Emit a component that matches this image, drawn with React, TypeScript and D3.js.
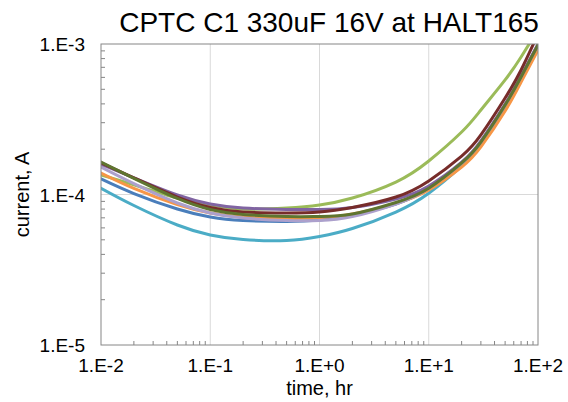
import React from "react";
import * as d3 from "d3";

const title = "CPTC C1 330uF 16V at HALT165";
const xLabel = "time, hr";
const yLabel = "current, A";
const xTickLabels = ["1.E-2", "1.E-1", "1.E+0", "1.E+1", "1.E+2"];
const yTickLabels = ["1.E-3", "1.E-4", "1.E-5"];
const xTicks = [0.01, 0.1, 1, 10, 100];
const yTicks = [1e-3, 1e-4, 1e-5];

const times = [0.01, 0.02, 0.05, 0.1, 0.2, 0.5, 1, 2, 5, 10, 20, 30, 50, 70, 100];

const lightGreen = [1.35e-4, 1.16e-4, 9.48e-5, 8.52e-5, 8.01e-5, 8.13e-5, 8.52e-5, 9.48e-5, 1.21e-4, 1.67e-4, 2.6e-4, 3.64e-4, 5.77e-4, 8.2e-4, 1.24e-3];
const cyan = [1.1e-4, 8.45e-5, 6.27e-5, 5.38e-5, 5.02e-5, 4.95e-5, 5.26e-5, 5.94e-5, 7.65e-5, 1.02e-4, 1.55e-4, 2.17e-4, 3.81e-4, 5.95e-4, 9.85e-4];
const blue = [1.27e-4, 1.015e-4, 8.01e-5, 7.09e-5, 6.72e-5, 6.62e-5, 6.77e-5, 7.31e-5, 8.65e-5, 1.1e-4, 1.62e-4, 2.23e-4, 3.93e-4, 6.04e-4, 9.85e-4];
const orange = [1.39e-4, 1.1e-4, 8.58e-5, 7.54e-5, 7.09e-5, 6.93e-5, 7.03e-5, 7.42e-5, 8.72e-5, 1.07e-4, 1.52e-4, 2.07e-4, 3.59e-4, 5.59e-4, 9.12e-4];
const lavender = [1.52e-4, 1.18e-4, 8.78e-5, 7.54e-5, 6.98e-5, 6.72e-5, 6.72e-5, 7.14e-5, 8.65e-5, 1.1e-4, 1.62e-4, 2.23e-4, 3.93e-4, 6.04e-4, 9.85e-4];
const purple = [1.59e-4, 1.29e-4, 9.92e-5, 8.65e-5, 8.13e-5, 7.95e-5, 7.95e-5, 8.2e-5, 9.34e-5, 1.14e-4, 1.64e-4, 2.27e-4, 3.99e-4, 6.13e-4, 1.0e-3];
const maroon = [1.62e-4, 1.29e-4, 9.62e-5, 8.2e-5, 7.65e-5, 7.54e-5, 7.65e-5, 8.2e-5, 9.62e-5, 1.23e-4, 1.8e-4, 2.49e-4, 4.38e-4, 6.72e-4, 1.165e-3];
const darkGreen = [1.64e-4, 1.28e-4, 9.41e-5, 7.95e-5, 7.37e-5, 7.14e-5, 7.14e-5, 7.42e-5, 8.85e-5, 1.1e-4, 1.62e-4, 2.23e-4, 3.93e-4, 6.04e-4, 9.85e-4];

const seriesValues = [lightGreen, cyan, blue, orange, lavender, purple, maroon, darkGreen];
const seriesColors = ["#9BBB59", "#4BACC6", "#4A7EBB", "#F79646", "#ACA0CC", "#8064A2", "#772C2A", "#5F7530"];

const W = 568;
const H = 402;
const left = 101;
const right = 538;
const top = 44;
const bottom = 345;
const FONT = "'Liberation Sans', Arial, sans-serif";

export default function App() {
  const x = d3.scaleLog().domain([0.01, 100]).range([left, right]);
  const y = d3.scaleLog().domain([1e-5, 1e-3]).range([bottom, top]);
  const line = d3
    .line<[number, number]>()
    .x((d) => x(d[0]))
    .y((d) => y(d[1]))
    .curve(d3.curveNatural);

  const minorX: number[] = [];
  for (let e = -2; e < 2; e++) for (let k = 2; k <= 9; k++) minorX.push(k * Math.pow(10, e));
  const minorY: number[] = [];
  for (let e = -5; e < -3; e++) for (let k = 2; k <= 9; k++) minorY.push(k * Math.pow(10, e));

  return (
    <svg width={W} height={H} style={{ position: "absolute", left: 0, top: 0, background: "#fff" }} fontFamily={FONT}>
      <defs>
        <clipPath id="plotClip">
          <rect x={left} y={top} width={right - left} height={bottom - top} />
        </clipPath>
      </defs>
      <rect x={0} y={0} width={W} height={H} fill="#fff" />
      {xTicks.slice(1, -1).map((t) => (
        <line key={"gx" + t} x1={x(t)} x2={x(t)} y1={top} y2={bottom} stroke="#d9d9d9" strokeWidth={1} />
      ))}
      {yTicks.slice(1, -1).map((t) => (
        <line key={"gy" + t} x1={left} x2={right} y1={y(t)} y2={y(t)} stroke="#d9d9d9" strokeWidth={1} />
      ))}
      {minorX.map((t) => (
        <line key={"mx" + t} x1={x(t)} x2={x(t)} y1={bottom} y2={bottom - 4} stroke="#868686" strokeWidth={1} />
      ))}
      {minorY.map((t) => (
        <line key={"my" + t} x1={left} x2={left + 4} y1={y(t)} y2={y(t)} stroke="#868686" strokeWidth={1} />
      ))}
      <g clipPath="url(#plotClip)">
        {seriesValues.map((vals, i) => (
          <path
            key={i}
            d={line(times.map((t, j) => [t, vals[j]] as [number, number])) || ""}
            fill="none"
            stroke={seriesColors[i]}
            strokeWidth={3}
            strokeLinejoin="round"
            strokeLinecap="round"
          />
        ))}
      </g>
      <rect x={left} y={top} width={right - left} height={bottom - top} fill="none" stroke="#868686" strokeWidth={1} />
      {xTicks.map((t, i) => (
        <text key={"xl" + t} x={x(t)} y={372} textAnchor="middle" fontSize={19} fill="#000">
          {xTickLabels[i]}
        </text>
      ))}
      {yTicks.map((t, i) => (
        <text key={"yl" + t} x={85} y={y(t) + 7} textAnchor="end" fontSize={19} fill="#000">
          {yTickLabels[i]}
        </text>
      ))}
      <text x={(left + right) / 2} y={395} textAnchor="middle" fontSize={20} fill="#000">
        {xLabel}
      </text>
      <text transform={`translate(29, ${(top + bottom) / 2}) rotate(-90)`} textAnchor="middle" fontSize={20} fill="#000">
        {yLabel}
      </text>
      <text x={329} y={32} textAnchor="middle" fontSize={28} fill="#000">
        {title}
      </text>
    </svg>
  );
}
